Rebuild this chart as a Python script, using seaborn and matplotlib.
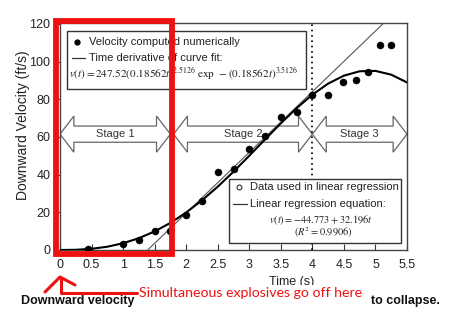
import matplotlib
matplotlib.use("Agg")
import matplotlib.pyplot as plt
import seaborn as sns
import pandas as pd
from matplotlib.patches import Rectangle, Polygon
from matplotlib.lines import Line2D

# ---------------- data ----------------
t_numeric = [0.45, 1.0, 1.25, 1.5, 1.75, 2.0, 2.25, 2.5, 2.75, 3.0, 3.25, 3.5,
             3.75, 4.0, 4.25, 4.48, 4.69, 4.88, 5.07, 5.25]
v_numeric = [0.5, 3.0, 5.3, 10.0, 10.0, 18.6, 26.0, 41.5, 43.0, 53.6, 60.5, 70.6,
             73.3, 82.3, 82.5, 89.0, 90.0, 94.5, 109.0, 109.0]

fit_t = [0, 0.25, 0.5, 0.75, 1.0, 1.25, 1.5, 1.75, 2.0, 2.25, 2.5, 2.75, 3.0,
         3.25, 3.5, 3.75, 4.0, 4.25, 4.5, 4.75, 5.0, 5.25, 5.5]
fit_v = [0, 0.11, 0.63, 1.74, 3.59, 6.27, 9.85, 14.40, 19.91, 26.35, 33.62, 41.58,
         50.03, 58.70, 67.24, 75.28, 82.44, 88.32, 92.55, 94.88, 95.07, 93.07, 88.95]

reg_t = [1.39, 5.12]
reg_v = [0.0, 120.1]

x_ticks = [0, 0.5, 1, 1.5, 2, 2.5, 3, 3.5, 4, 4.5, 5, 5.5]
x_tick_labels = ["0", "0.5", "1", "1.5", "2", "2.5", "3", "3.5", "4", "4.5", "5", "5.5"]
y_ticks = [0, 20, 40, 60, 80, 100, 120]

stage_names = ["Stage 1", "Stage 2", "Stage 3"]
stage_starts = [0.0, 1.8, 4.0]
stage_ends = [1.75, 4.0, 5.5]
collapse_t = 4.0

# ---------------- style ----------------
sns.set_style("ticks")
plt.rcParams["font.family"] = ["Liberation Sans", "DejaVu Sans"]
plt.rcParams["mathtext.fontset"] = "stix"

W, H = 450, 324
fig = plt.figure(figsize=(4.5, 3.24), dpi=100)
fig.patch.set_facecolor("white")
L, R, T, B = 60, 407, 23, 250
ax = fig.add_axes([L / W, 1 - B / H, (R - L) / W, (B - T) / H])


def fx(x):
    return x / W


def fy(y):
    return 1 - y / H


def axc(x, y):
    return ((x - L) / (R - L), (B - y) / (B - T))


# ---------------- marks ----------------
ax.axvline(collapse_t, color="black", ls=(0, (1, 2.2)), lw=1.2, zorder=3)

# stage arrows
yc, sh, hh, hl = 61.5, 4.3, 9.6, 0.22
for name, x0, x1 in zip(stage_names, stage_starts, stage_ends):
    pts = [(x0, yc), (x0 + hl, yc + hh), (x0 + hl, yc + sh), (x1 - hl, yc + sh),
           (x1 - hl, yc + hh), (x1, yc), (x1 - hl, yc - hh), (x1 - hl, yc - sh),
           (x0 + hl, yc - sh), (x0 + hl, yc - hh)]
    ax.add_patch(Polygon(pts, closed=True, facecolor="white", edgecolor="#666666",
                         lw=0.9, zorder=2))
    ax.text((x0 + x1) / 2, yc, name, ha="center", va="center", fontsize=8,
            color="#333333", zorder=2.5)

sns.lineplot(x=reg_t, y=reg_v, ax=ax, color="#555555", lw=0.8, sort=False,
             estimator=None, zorder=4)
sns.lineplot(x=fit_t, y=fit_v, ax=ax, color="black", lw=1.5, sort=False,
             estimator=None, zorder=4)
df_num = pd.DataFrame({"t": t_numeric, "v": v_numeric})
sns.scatterplot(data=df_num, x="t", y="v", ax=ax, color="black", s=26,
                edgecolor="black", linewidth=0.3, zorder=5)

# ---------------- axes ----------------
ax.set_xlim(0, 5.5)
ax.set_ylim(0, 120.5)
ax.set_xticks(x_ticks)
ax.set_xticklabels(x_tick_labels)
ax.set_yticks(y_ticks)
ax.set_xlabel("")
ax.set_ylabel("")
ax.tick_params(axis="x", direction="in", length=4, pad=6.5, labelsize=9,
               color="#333333", labelcolor="#222222")
ax.tick_params(axis="y", direction="out", length=3, pad=4, labelsize=9,
               color="#333333", labelcolor="#222222")
for s in ax.spines.values():
    s.set_color("#444444")
    s.set_linewidth(1.0)

fig.text(fx(23), fy(125), "Downward Velocity (ft/s)", rotation=90, ha="center",
         va="center", fontsize=10, color="#222222")

# ---------------- legend boxes ----------------
def box(x0, y0, x1, y1):
    bx, by = axc(x0, y1)
    bw = (x1 - x0) / (R - L)
    bh = (y1 - y0) / (B - T)
    ax.add_patch(Rectangle((bx, by), bw, bh, transform=ax.transAxes,
                           facecolor="white", edgecolor="#333333", lw=1.0,
                           zorder=6, clip_on=False))


box(67, 31, 306, 89)
ax.plot(*axc(77, 42), "o", ms=3.5, color="black", transform=ax.transAxes,
        clip_on=False, zorder=7)
ax.text(*axc(89, 42), "Velocity computed numerically", ha="left", va="center",
        fontsize=8, color="#222222", transform=ax.transAxes, zorder=7)
(ax0, ay0), (ax1, _) = axc(72, 58), axc(85, 58)
ax.plot([ax0, ax1], [ay0, ay0], color="#333333", lw=0.9, transform=ax.transAxes,
        clip_on=False, zorder=7)
ax.text(*axc(89, 58), "Time derivative of curve fit:", ha="left", va="center",
        fontsize=8, color="#222222", transform=ax.transAxes, zorder=7)
ax.text(*axc(69, 74),
        r"$v(t) = 247.52(0.18562t)^{2.5126}\ \exp\ -(0.18562t)^{3.5126}$",
        ha="left", va="center", fontsize=8, color="#222222",
        transform=ax.transAxes, zorder=7)

box(229, 179, 401, 243)
ax.plot(*axc(239, 187), "o", ms=3.5, markerfacecolor="white",
        markeredgecolor="#333333", markeredgewidth=0.8, transform=ax.transAxes,
        clip_on=False, zorder=7)
ax.text(*axc(250, 187), "Data used in linear regression", ha="left", va="center",
        fontsize=8, color="#222222", transform=ax.transAxes, zorder=7)
(bx0, by0), (bx1, _) = axc(233, 204), axc(247, 204)
ax.plot([bx0, bx1], [by0, by0], color="#333333", lw=0.9, transform=ax.transAxes,
        clip_on=False, zorder=7)
ax.text(*axc(250, 204), "Linear regression equation:", ha="left", va="center",
        fontsize=8, color="#222222", transform=ax.transAxes, zorder=7)
ax.text(*axc(321, 220), r"$v(t) = -44.773 + 32.196t$", ha="center", va="center",
        fontsize=7.5, color="#222222", transform=ax.transAxes, zorder=7)
ax.text(*axc(323, 233), r"$(R^2 = 0.9906)$", ha="center", va="center",
        fontsize=7.5, color="#222222", transform=ax.transAxes, zorder=7)

# ---------------- annotations below ----------------
RED = "#ee1111"
fig.text(fx(292), fy(282), "Time (s)", ha="center", va="center", fontsize=9,
         color="#222222", zorder=1)
fig.text(fx(251), fy(293), "Simultaneous explosives go off here", color=RED,
         fontsize=10.2, family=["Lato", "DejaVu Sans"], ha="center", va="center",
         bbox=dict(facecolor="white", edgecolor="none", pad=1.2), zorder=5)
fig.text(fx(21), fy(301), "Downward velocity", fontweight="bold", fontsize=9,
         ha="left", va="center", color="#111111", zorder=6)
fig.text(fx(371), fy(301), "to collapse.", fontweight="bold", fontsize=9,
         ha="left", va="center", color="#111111", zorder=6)

arm_x = [45, 60, 75]
arm_y = [292, 277, 285]
fig.add_artist(Line2D([fx(v) for v in arm_x], [fy(v) for v in arm_y], color=RED,
                      lw=2.2, transform=fig.transFigure, zorder=10))
sh_x = [61, 61, 137]
sh_y = [278, 293, 293]
fig.add_artist(Line2D([fx(v) for v in sh_x], [fy(v) for v in sh_y], color=RED,
                      lw=2.2, transform=fig.transFigure, zorder=10))

fig.add_artist(Rectangle((fx(56), fy(254)), (172 - 56) / W, (254 - 21) / H,
                         fill=False, edgecolor=RED, lw=4.2,
                         transform=fig.transFigure, zorder=20))

fig.savefig("out.png", dpi=100, facecolor="white")
